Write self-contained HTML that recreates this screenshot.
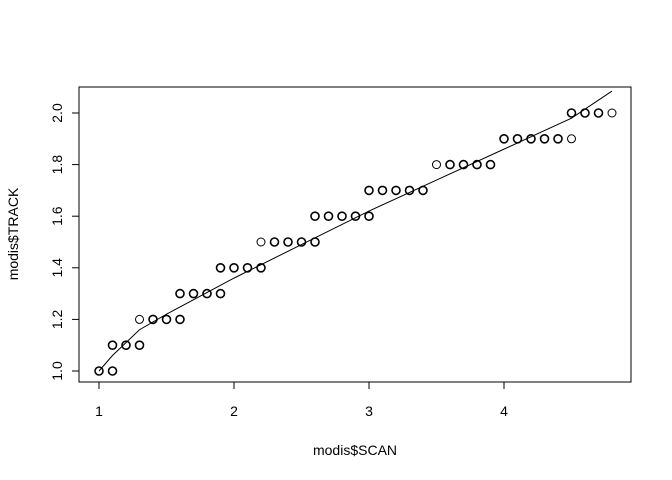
<!DOCTYPE html>
<html><head><meta charset="utf-8"><style>
body{margin:0;background:#fff}
svg{display:block;font-family:"Liberation Sans",sans-serif}
</style></head><body>
<svg width="672" height="480" viewBox="0 0 672 480">
<rect x="79" y="87" width="552" height="295" fill="none" stroke="#000"/>
<g id="axes"></g>
<g id="pts"></g>
<path id="fit" fill="none" stroke="#000" stroke-width="1"/>
<text x="355" y="455" text-anchor="middle" font-size="14">modis$SCAN</text>
<text transform="translate(18,234) rotate(-90)" text-anchor="middle" font-size="14">modis$TRACK</text>
</svg>
<script>
const scanVals=[1.0,1.1,1.1,1.2,1.3,1.3,1.4,1.5,1.6,1.6,1.7,1.8,1.9,1.9,2.0,2.1,2.2,2.2,2.3,2.4,2.5,2.6,2.6,2.7,2.8,2.9,3.0,3.0,3.1,3.2,3.3,3.4,3.5,3.6,3.7,3.8,3.9,4.0,4.1,4.2,4.3,4.4,4.5,4.5,4.6,4.7,4.8];
const trackVals=[1.0,1.0,1.1,1.1,1.1,1.2,1.2,1.2,1.2,1.3,1.3,1.3,1.3,1.4,1.4,1.4,1.4,1.5,1.5,1.5,1.5,1.5,1.6,1.6,1.6,1.6,1.6,1.7,1.7,1.7,1.7,1.7,1.8,1.8,1.8,1.8,1.8,1.9,1.9,1.9,1.9,1.9,1.9,2.0,2.0,2.0,2.0];
const pointCounts=[3,3,3,3,3,1,3,3,3,3,3,3,3,3,3,3,3,1,3,3,3,3,3,3,2,2,3,3,3,3,3,3,1,3,2,3,3,3,2,3,3,2,1,3,2,3,1];
const fitX=[1.0,1.1,1.2,1.3,1.5,2.0,2.5,3.0,3.5,4.0,4.5,4.8];
const fitY=[1.0,1.06,1.11,1.16,1.22,1.36,1.49,1.62,1.74,1.86,1.98,2.085];
const xTicks=[1,2,3,4];
const yTicks=[1.0,1.2,1.4,1.6,1.8,2.0];
const sx=v=>99+(v-1)*135, sy=v=>371-(v-1)*258;
const NS="http://www.w3.org/2000/svg";
const ax=document.getElementById('axes');
function mk(t,a,p){const e=document.createElementNS(NS,t);for(const k in a)e.setAttribute(k,a[k]);p.appendChild(e);return e;}
mk('line',{x1:sx(1),x2:sx(4),y1:382,y2:382,stroke:'#000'},ax);
xTicks.forEach(v=>{
 const l=mk('line',{x1:sx(v),x2:sx(v),y1:382,y2:389,stroke:'#000'},ax);
 
 
 const t=mk('text',{x:sx(v),y:416,'text-anchor':'middle','font-size':14},ax);t.textContent=v;
 
 
});
mk('line',{x1:79,x2:79,y1:sy(1),y2:sy(2),stroke:'#000'},ax);
yTicks.forEach(v=>{
 const l=mk('line',{x1:72,x2:79,y1:sy(v),y2:sy(v),stroke:'#000'},ax);
 
 
 const t=mk('text',{transform:`translate(62,${sy(v)}) rotate(-90)`,'text-anchor':'middle','font-size':14},ax);t.textContent=v.toFixed(1);
 
 
});
const pg=document.getElementById('pts');
scanVals.forEach((x,i)=>{
 const c=mk('circle',{cx:sx(x),cy:sy(trackVals[i]),r:4,fill:'none',stroke:'#000','stroke-width':pointCounts[i]>1?1.6:1},pg);
 
 
});
document.getElementById('fit').setAttribute('d',fitX.map((x,i)=>(i?'L':'M')+sx(x)+' '+sy(fitY[i])).join(' '));
</script>
</body></html>
